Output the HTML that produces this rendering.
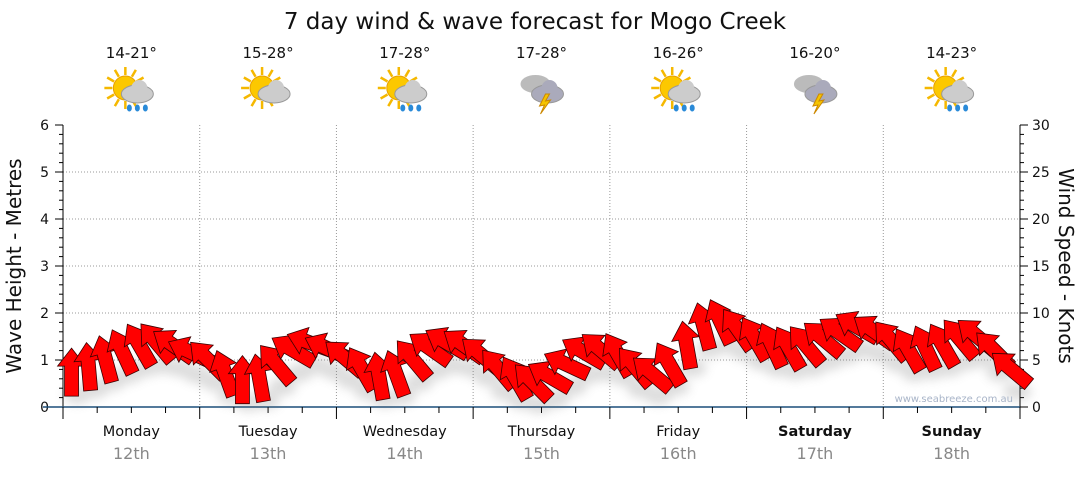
<!DOCTYPE html>
<html><head><meta charset="utf-8"><style>
body{margin:0;background:#fff;width:1080px;height:475px;overflow:hidden;font-family:"DejaVu Sans","Liberation Sans",sans-serif}
</style></head><body>
<svg id="chart" width="1080" height="475" xmlns="http://www.w3.org/2000/svg" font-family="DejaVu Sans, Liberation Sans, sans-serif">
<defs><filter id="sh" x="-50%" y="-50%" width="200%" height="200%"><feGaussianBlur stdDeviation="5"/></filter></defs>
<text x="535" y="29" font-size="23" text-anchor="middle" fill="#111">7 day wind &amp; wave forecast for Mogo Creek</text>
<g id="grid"></g><g id="axes"></g><g id="icons"></g><g id="marks"></g>
<text transform="translate(21,266) rotate(-90)" font-size="20" text-anchor="middle" fill="#111">Wave Height - Metres</text>
<text transform="translate(1059,266) rotate(90)" font-size="20" text-anchor="middle" fill="#111">Wind Speed - Knots</text>
<text x="1013" y="402" font-size="10" text-anchor="end" fill="#a8b4c8">www.seabreeze.com.au</text>
</svg>
<script>
const days=["Monday","Tuesday","Wednesday","Thursday","Friday","Saturday","Sunday"];
const dates=["12th","13th","14th","15th","16th","17th","18th"];
const temps=["14-21°","15-28°","17-28°","17-28°","16-26°","16-20°","14-23°"];
const iconTypes=["sunrain","suncloud","sunrain","storm","sunrain","storm","sunrain"];
const waveTicks=[0,1,2,3,4,5,6];
const windTicks=[0,5,10,15,20,25,30];
const windKnots=[3.6,4.2,5.0,5.8,6.5,6.8,6.5,5.8, 5.0,3.5,2.8,3.0,4.5,6.0,6.8,6.2, 5.2,4.0,3.2,3.5,5.0,6.2,6.8,6.5, 5.5,4.0,3.0,2.6,3.2,4.5,5.8,6.0, 5.5,4.2,3.5,4.5,6.5,8.5,9.0,8.2, 7.2,6.5,6.2,6.5,7.2,7.8,8.5,8.0, 7.0,6.0,6.2,6.5,7.2,7.5,6.0,4.0];
const windHeading=[0,-5,-15,-25,-30,-40,-55,-65, -45,-20,0,-10,-40,-60,-70,-65, -50,-30,-10,-20,-40,-55,-60,-55, -50,-40,-30,-45,-60,-65,-60,-50, -30,-40,-50,-30,-10,-15,-25,-35, -30,-25,-30,-40,-50,-55,-60,-55, -40,-30,-25,-30,-40,-50,-45,-50];
const NS="http://www.w3.org/2000/svg";
const X0=63,X1=1020,Y0=407,Y1=125,DW=(X1-X0)/7;
const yW=v=>Y0-(v/6)*(Y0-Y1);
const yK=v=>Y0-(v/30)*(Y0-Y1);
const xT=t=>X0+t*DW;
function mk(tag,attrs,parent){const e=document.createElementNS(NS,tag);for(const k in attrs)e.setAttribute(k,attrs[k]);parent.appendChild(e);return e;}
const grid=document.getElementById('grid'),axes=document.getElementById('axes'),icons=document.getElementById('icons'),marks=document.getElementById('marks');
waveTicks.forEach(v=>{if(v>0&&v<6){const l=mk('line',{x1:X0,x2:X1,y1:yW(v),y2:yW(v),stroke:'#999','stroke-dasharray':'1,2'},grid);

}
const t=mk('text',{x:X0-14,y:yW(v)+5,'font-size':14,'text-anchor':'end',fill:'#111'},axes);t.textContent=v;

});
for(let i=0;i<=30;i++){const y=Y0-i*(Y0-Y1)/30;mk('line',{x1:X0-(i%5==0?8:4),x2:X0,y1:y,y2:y,stroke:'#000'},axes);mk('line',{x1:X1,x2:X1+(i%5==0?8:4),y1:y,y2:y,stroke:'#000'},axes);}
windTicks.forEach(v=>{const t=mk('text',{x:X1+12,y:yK(v)+5,'font-size':14,fill:'#111'},axes);t.textContent=v;

});
mk('line',{x1:X0,x2:X0,y1:Y1,y2:Y0,stroke:'#000'},axes);
mk('line',{x1:X1,x2:X1,y1:Y1,y2:Y0,stroke:'#000'},axes);
mk('line',{x1:X0-20,x2:X1,y1:Y0,y2:Y0,stroke:'#1c4f7a','stroke-width':1.5},axes);
for(let i=0;i<=28;i++){const x=xT(i/4);mk('line',{x1:x,x2:x,y1:Y0,y2:Y0+(i%4==0?12:6),stroke:'#000'},axes);}
for(let d=1;d<7;d++){const l=mk('line',{x1:xT(d),x2:xT(d),y1:Y1,y2:Y0,stroke:'#999','stroke-dasharray':'1,2'},grid);

}
function icon(cx,cy,type,g){
 if(type!=='storm'){for(let a=0;a<360;a+=30){const r=a*Math.PI/180;mk('line',{x1:cx-6+Math.cos(r)*13,y1:cy-4+Math.sin(r)*13,x2:cx-6+Math.cos(r)*21,y2:cy-4+Math.sin(r)*21,stroke:'#f5b800','stroke-width':2.5},g);}
 mk('circle',{cx:cx-6,cy:cy-4,r:12,fill:'#fcc800',stroke:'#e8a000'},g);}
 const c=type==='storm'?'#aab':'#ccc';
 if(type==='storm'){mk('ellipse',{cx:cx-6,cy:cy-8,rx:15,ry:9,fill:'#bbb'},g);}
 mk('ellipse',{cx:cx+6,cy:cy+2,rx:16,ry:9,fill:c,stroke:'#999'},g);
 mk('circle',{cx:cx+8,cy:cy-4,r:8,fill:c},g);
 if(type==='sunrain'){[-2,6,14].forEach(dx=>mk('ellipse',{cx:cx+dx,cy:cy+16,rx:2.5,ry:3.5,fill:'#2a8ad8'},g));}
 if(type==='storm'){mk('polygon',{points:`${cx+4},${cy+2} ${cx-2},${cy+14} ${cx+3},${cy+13} ${cx-1},${cy+22} ${cx+9},${cy+8} ${cx+4},${cy+9} ${cx+8},${cy+2}`,fill:'#f5c400',stroke:'#c80'},g);}
}
days.forEach((d,i)=>{const cx=xT(i+0.5);
 const t=mk('text',{x:cx,y:58,'font-size':15,'text-anchor':'middle',fill:'#111'},icons);t.textContent=temps[i];
 
 
 const g=mk('g',{},icons);
 
 
 icon(cx,92,iconTypes[i],g);
 const dl=mk('text',{x:cx,y:436,'font-size':14.5,'text-anchor':'middle',fill:'#111','font-weight':i>=5?'bold':'normal'},axes);dl.textContent=d;
 
 
 const dt=mk('text',{x:cx,y:459,'font-size':16,'text-anchor':'middle',fill:'#888'},axes);dt.textContent=dates[i];
 
 
});
const n=windKnots.length;
const arrowPath="M0,-25 L14,-7 L7,-7 L7,23 L-7,23 L-7,-7 L-14,-7 Z";
const sh=mk('g',{filter:'url(#sh)',opacity:0.22},marks);
windKnots.forEach((k,i)=>{const x=xT((i+0.5)*7/n),y=yK(k);mk('ellipse',{cx:x+6,cy:y+22,rx:14,ry:9,fill:'#666'},sh);});
windKnots.forEach((k,i)=>{const x=xT((i+0.5)*7/n),y=yK(k);
 const a=mk('path',{d:arrowPath,transform:`translate(${x},${y}) rotate(${windHeading[i]})`,fill:'#ff0000',stroke:'#3a0000','stroke-width':0.8},marks);
 
 
});
</script>
</body></html>
